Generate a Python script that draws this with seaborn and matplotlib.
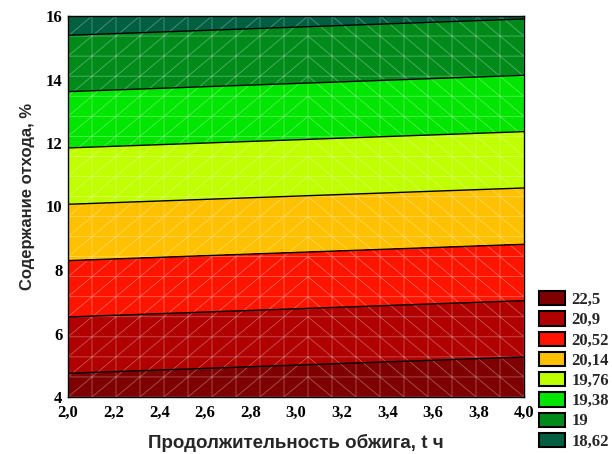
import numpy as np
import matplotlib
matplotlib.use("Agg")
import matplotlib.pyplot as plt
import matplotlib.tri as mtri
from matplotlib.patches import Patch
from matplotlib.ticker import FuncFormatter
import seaborn as sns

# Response surface corners: firing time (h) x waste content (%)
time_h = [2.0, 4.0]
waste_pct = [4.0, 16.0]
response = [[21.06, 21.17],   # waste = 4 %
            [18.49, 18.60]]   # waste = 16 %

# Contour boundaries and legend labels
boundaries = [18.62, 19.0, 19.38, 19.76, 20.14, 20.52, 20.9]
legend_labels = ["22,5", "20,9", "20,52", "20,14", "19,76", "19,38", "19", "18,62"]
band_colors = ["#7f0000", "#b00000", "#ff1400", "#ffc000",
               "#c0ff00", "#00e600", "#008a1a", "#005f40"]

sns.set_theme(style="white")
plt.rcParams["font.family"] = ["Liberation Serif", "DejaVu Serif"]

fig = plt.figure(figsize=(6.12, 4.54), dpi=100)
ax = fig.add_axes([68 / 612, 1 - 397 / 454, 456 / 612, 381 / 454])

X, Y = np.meshgrid(time_h, waste_pct)
Z = np.array(response)
levels = [17.5] + boundaries + [22.5]
ax.contourf(X, Y, Z, levels=levels, colors=band_colors[::-1])
ax.contour(X, Y, Z, levels=boundaries, colors="black", linewidths=1.0)

# Light triangulated surface mesh
gx = np.linspace(time_h[0], time_h[1], 20)
gy = np.linspace(waste_pct[0], waste_pct[1], 20)
MX, MY = np.meshgrid(gx, gy)
nx = len(gx)
tris = []
for j in range(len(gy) - 1):
    for i in range(nx - 1):
        bl = j * nx + i
        br = bl + 1
        tl = bl + nx
        tr = tl + 1
        if i < 10:
            tris += [[bl, br, tr], [bl, tr, tl]]
        else:
            tris += [[bl, br, tl], [br, tr, tl]]
tri = mtri.Triangulation(MX.ravel(), MY.ravel(), np.array(tris))
ax.triplot(tri, color="white", lw=0.5, alpha=0.4)

ax.set_xlim(2, 4)
ax.set_ylim(4, 16)
ax.set_xticks(np.arange(2.0, 4.01, 0.2))
ax.set_yticks(np.arange(4, 17, 2))
ax.xaxis.set_major_formatter(FuncFormatter(lambda v, p: f"{v:.1f}".replace(".", ",")))
ax.yaxis.set_major_formatter(FuncFormatter(lambda v, p: f"{v:.0f}"))
ax.tick_params(direction="in", length=3, width=0.8, top=True, right=True,
               bottom=True, left=True, labelsize=12, pad=4, colors="black")
ax.tick_params(axis="x", pad=6)
for lab in ax.get_xticklabels() + ax.get_yticklabels():
    lab.set_fontweight("bold")
for s in ax.spines.values():
    s.set_color("black")
    s.set_linewidth(1.0)

ax.set_xlabel("Продолжительность обжига, t ч", fontsize=13.5, fontweight="bold",
              family=["Liberation Sans", "DejaVu Sans"], labelpad=9)
ax.set_ylabel("Содержание отхода, %", fontsize=12, fontweight="bold",
              family=["Liberation Sans", "DejaVu Sans"])
ax.yaxis.set_label_coords(-0.072, 0.527)

handles = [Patch(facecolor=c, edgecolor="black", linewidth=1.5) for c in band_colors]
fig.legend(handles, legend_labels, loc="upper left", bbox_to_anchor=(539 / 612, 1 - 291 / 454),
           frameon=False, borderpad=0, borderaxespad=0, handlelength=1.55,
           handleheight=0.95, handletextpad=0.4, labelspacing=0.2,
           prop={"family": "Liberation Serif", "weight": "bold", "size": 12})

fig.savefig("out.png", dpi=100)
